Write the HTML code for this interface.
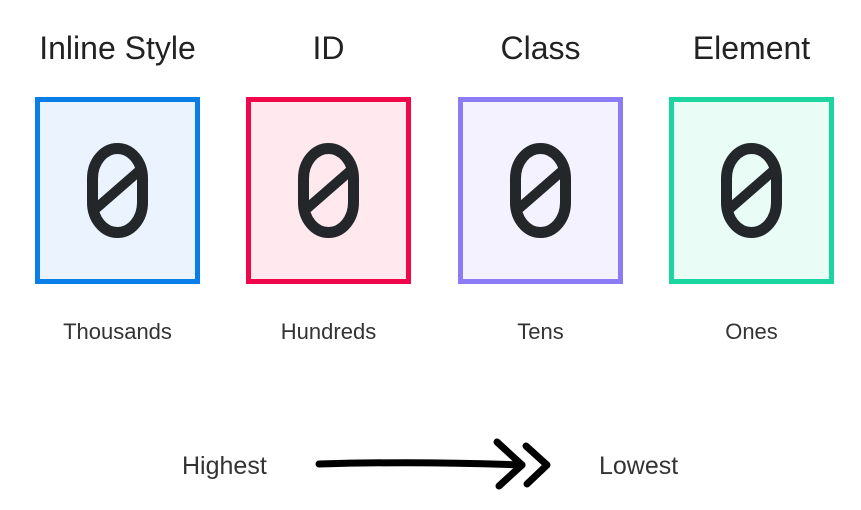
<!DOCTYPE html>
<html><head><meta charset="utf-8"><style>
body{margin:0;width:861px;height:510px;background:#fff;position:relative;overflow:hidden;font-family:"Liberation Sans",sans-serif;}
.t{position:absolute;width:211px;text-align:center;font-size:32px;color:#222;top:30px;}
.l{position:absolute;width:211px;text-align:center;font-size:22px;color:#333;top:319px;}
.box{position:absolute;top:97px;width:155px;height:177px;border:5px solid;}
.d{position:absolute;left:0;top:0;width:155px;height:177px;line-height:177px;text-align:center;font-family:"Liberation Mono",monospace;font-size:132px;color:transparent;}
.box svg{position:absolute;left:0;top:0;}
.s{position:absolute;font-size:25px;color:#333;top:452px;}
</style></head><body>
<div class="t" style="left:12px">Inline Style</div>
<div class="t" style="left:223px">ID</div>
<div class="t" style="left:435px">Class</div>
<div class="t" style="left:646px">Element</div>

<div class="box" style="left:35px;border-color:#0a7ee8;background:#ebf4fe"><svg width="155" height="177"><rect x="52.5" y="46.5" width="50" height="84" rx="25" ry="30" fill="none" stroke="#23272a" stroke-width="11"/><line x1="52" y1="110" x2="99" y2="69" stroke="#23272a" stroke-width="10"/></svg><div class="d">0</div></div>
<div class="box" style="left:246px;border-color:#f0064a;background:#ffe9ee"><svg width="155" height="177"><rect x="52.5" y="46.5" width="50" height="84" rx="25" ry="30" fill="none" stroke="#23272a" stroke-width="11"/><line x1="52" y1="110" x2="99" y2="69" stroke="#23272a" stroke-width="10"/></svg><div class="d">0</div></div>
<div class="box" style="left:458px;border-color:#8b7cf5;background:#f4f2fe"><svg width="155" height="177"><rect x="52.5" y="46.5" width="50" height="84" rx="25" ry="30" fill="none" stroke="#23272a" stroke-width="11"/><line x1="52" y1="110" x2="99" y2="69" stroke="#23272a" stroke-width="10"/></svg><div class="d">0</div></div>
<div class="box" style="left:669px;border-color:#1ad59e;background:#e9fcf6"><svg width="155" height="177"><rect x="52.5" y="46.5" width="50" height="84" rx="25" ry="30" fill="none" stroke="#23272a" stroke-width="11"/><line x1="52" y1="110" x2="99" y2="69" stroke="#23272a" stroke-width="10"/></svg><div class="d">0</div></div>

<div class="l" style="left:12px">Thousands</div>
<div class="l" style="left:223px">Hundreds</div>
<div class="l" style="left:435px">Tens</div>
<div class="l" style="left:646px">Ones</div>

<div class="s" style="left:182px">Highest</div>
<div class="s" style="left:599px">Lowest</div>
<svg style="position:absolute;left:0;top:0" width="861" height="510">
<path d="M319 464 Q420 461 522 465" stroke="#000" stroke-width="7" fill="none" stroke-linecap="round"/>
<path d="M497 442 L522 465 L499 486" stroke="#000" stroke-width="7" fill="none" stroke-linecap="round" stroke-linejoin="round"/>
<path d="M526 446 L547 465 L527 484" stroke="#000" stroke-width="7" fill="none" stroke-linecap="round" stroke-linejoin="round"/>
</svg>
</body></html>
